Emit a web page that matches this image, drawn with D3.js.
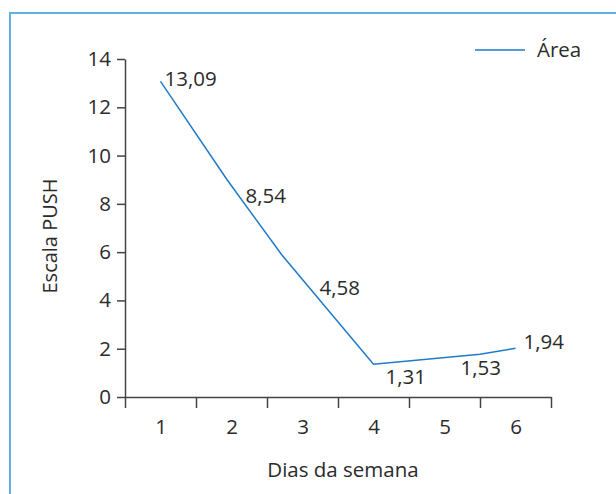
<!DOCTYPE html>
<html>
<head>
<meta charset="utf-8">
<script src="https://cdn.jsdelivr.net/npm/d3@7"></script>
<style>
  html, body { margin: 0; padding: 0; background: #fff; }
  svg { display: block; font-family: "Open Sans", "Noto Sans", sans-serif; }
</style>
</head>
<body>
<svg id="chart" width="616" height="494"></svg>
<script>
// ---- data ----
const categories = [1, 2, 3, 4, 5, 6];
const labelValues = [13.09, 8.54, 4.58, 1.31, 1.53, 1.94];
const labelTexts = ["13,09", "8,54", "4,58", "1,31", "1,53", "1,94"];
// line vertices as drawn (day position, PUSH value)
const lineDays = [1, 1.94, 2.71, 4, 5.5, 6];
const lineValues = [13.07, 8.99, 5.88, 1.36, 1.77, 2.02];
const yTicks = [0, 2, 4, 6, 8, 10, 12, 14];
const seriesName = "Área";
const xTitle = "Dias da semana";
const yTitle = "Escala PUSH";

// ---- layout ----
const svg = d3.select("#chart");
const textColor = "#2b2b2b";
const axisColor = "#444";
const lineColor = "#1f7ac9";
const fs = "20.5px";

// frame
svg.append("path")
  .attr("d", "M10,494 L10,13 L616,13")
  .attr("fill", "none")
  .attr("stroke", "#5fb0e3")
  .attr("stroke-width", 2);

const x = d3.scaleLinear().domain([0.5, 6.5]).range([125, 551]);
const y = d3.scaleLinear().domain([0, 14]).range([397, 59]);

// y axis
const yAxis = svg.append("g")
  .attr("transform", `translate(${x(0.5)},0)`)
  .call(d3.axisLeft(y).tickValues(yTicks).tickSize(8).tickPadding(6).tickSizeOuter(0));
yAxis.select(".domain").attr("stroke", axisColor).attr("stroke-width", 1.5);
yAxis.selectAll(".tick line").attr("stroke", axisColor).attr("stroke-width", 1.5);
yAxis.selectAll(".tick text").attr("fill", textColor).style("font-size", fs)
  .style("font-family", "'Open Sans', sans-serif");

// x axis (edge ticks)
const edges = d3.range(0.5, 7, 1);
const xAxis = svg.append("g")
  .attr("transform", `translate(0,${y(0)})`)
  .call(d3.axisBottom(x).tickValues(edges).tickSize(11).tickFormat("").tickSizeOuter(0));
xAxis.select(".domain").attr("stroke", axisColor).attr("stroke-width", 1.5);
xAxis.selectAll(".tick line").attr("stroke", axisColor).attr("stroke-width", 1.5);

// x labels
const xLab = svg.append("g")
  .attr("transform", `translate(0,${y(0)})`)
  .call(d3.axisBottom(x).tickValues(categories).tickSize(0).tickPadding(22).tickFormat(d3.format("d")));
xLab.select(".domain").remove();
xLab.selectAll(".tick text").attr("fill", textColor).style("font-size", fs)
  .style("font-family", "'Open Sans', sans-serif");

// titles
svg.append("text")
  .attr("x", 343).attr("y", 477)
  .attr("text-anchor", "middle")
  .attr("fill", textColor)
  .style("font-size", fs)
  .text(xTitle);

svg.append("text")
  .attr("transform", "translate(57,236) rotate(-90)")
  .attr("text-anchor", "middle")
  .attr("fill", textColor)
  .style("font-size", "20px")
  .text(yTitle);

// line
const linePts = lineDays.map((d, i) => [d, lineValues[i]]);
svg.append("path")
  .datum(linePts)
  .attr("fill", "none")
  .attr("stroke", lineColor)
  .attr("stroke-width", 1.5)
  .attr("d", d3.line().x(d => x(d[0])).y(d => y(d[1])));

// data labels
const labelOffsets = [[4, 5], [14, 12], [17, 8.6], [12, 18.6], [16, 15], [8, -1]];
svg.append("g").selectAll("text")
  .data(categories)
  .join("text")
  .attr("x", (d, i) => x(d) + labelOffsets[i][0])
  .attr("y", (d, i) => y(labelValues[i]) + labelOffsets[i][1])
  .attr("fill", textColor)
  .style("font-size", fs)
  .text((d, i) => labelTexts[i]);

// legend
const lg = svg.append("g");
lg.append("line")
  .attr("x1", 475).attr("x2", 525).attr("y1", 50).attr("y2", 50)
  .attr("stroke", lineColor).attr("stroke-width", 1.5);
lg.append("text")
  .attr("x", 537).attr("y", 57)
  .attr("fill", textColor)
  .style("font-size", fs)
  .text(seriesName);
</script>
</body>
</html>
